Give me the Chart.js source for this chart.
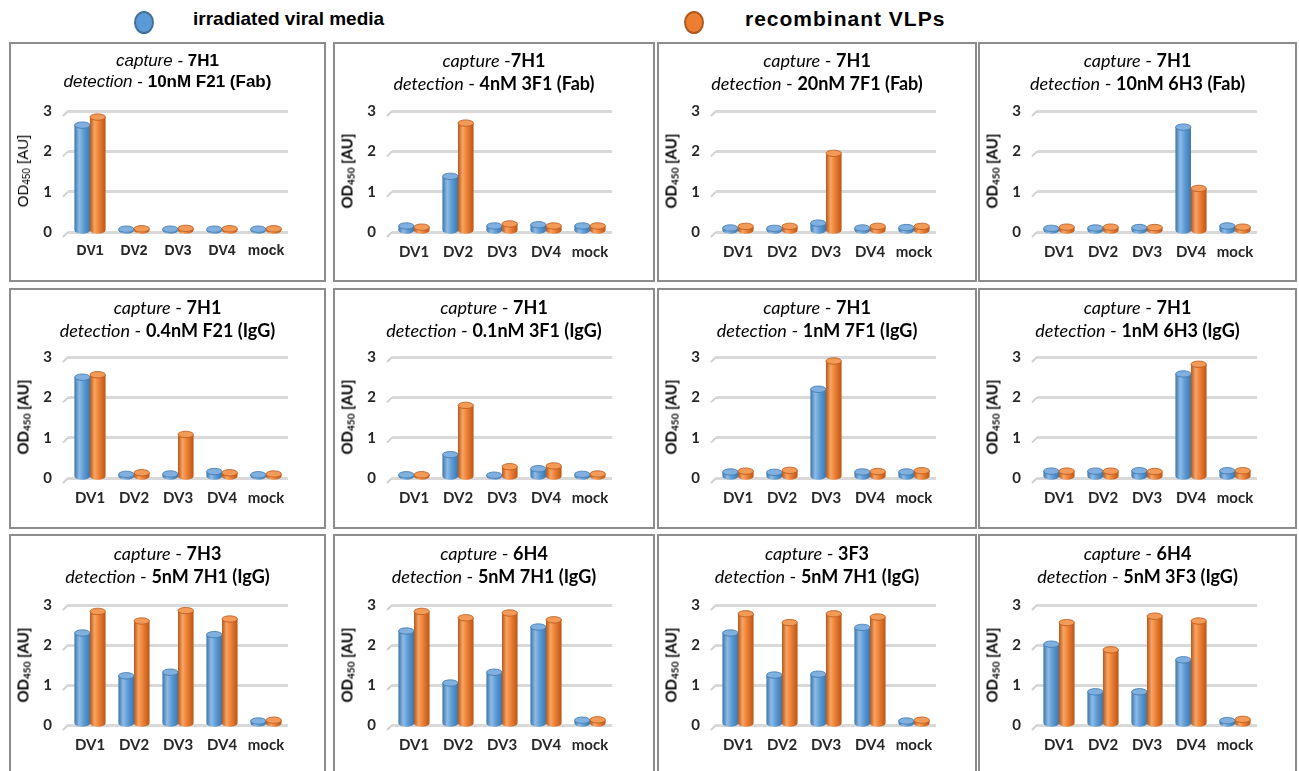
<!DOCTYPE html>
<html>
<head>
<meta charset="utf-8">
<script src="https://cdn.jsdelivr.net/npm/chart.js@4"></script>
<style>
  body { margin: 0; background: #fff; width: 1299px; height: 771px; position: relative; overflow: hidden; }
  .legend-dot { position: absolute; width: 16px; height: 19px; border-radius: 50%; }
  .legend-text { position: absolute; font: bold 20px "Liberation Sans", Arial, sans-serif; color: #000; white-space: nowrap; }
  .panel { position: absolute; border: 2px solid #8c8c8c; box-sizing: border-box; background: #fff; }
  .panel canvas { position: absolute; left: 0; top: 0; }
  .ttl { position: absolute; left: 0; right: 0; text-align: center; font: 18px Lato, sans-serif; color: #000; white-space: nowrap; }
  .ttl i { font-style: italic; }
  .ttl b { font-weight: bold; }
  .ytitle { position: absolute; font: bold 15px Lato, sans-serif; color: #000; white-space: nowrap;
            transform: translate(-50%, -50%) rotate(-90deg); }
  .ytitle sub { font-size: 10px; vertical-align: -2px; }
</style>
</head>
<body>
<div class="legend-dot" style="left:134px;top:11px;background:#5b9bd5;border:2px solid #41719c;"></div>
<div class="legend-text" style="left:193px;top:8px;font-size:19px;">irradiated viral media</div>
<div class="legend-dot" style="left:684px;top:11px;background:#ed7d31;border:2px solid #ae5a21;"></div>
<div class="legend-text" style="left:745px;top:7px;font-size:21px;letter-spacing:1px;">recombinant VLPs</div>

<script>
const categories = ["DV1", "DV2", "DV3", "DV4", "mock"];
const seriesNames = ["irradiated viral media", "recombinant VLPs"];
const yTicks = [0, 1, 2, 3];

const captureAb = ["7H1", "7H1", "7H1", "7H1", "7H1", "7H1", "7H1", "7H1", "7H3", "6H4", "3F3", "6H4"];
const detectionAb = [
  "10nM F21 (Fab)", "4nM 3F1 (Fab)", "20nM 7F1 (Fab)", "10nM 6H3 (Fab)",
  "0.4nM F21 (IgG)", "0.1nM 3F1 (IgG)", "1nM 7F1 (IgG)", "1nM 6H3 (IgG)",
  "5nM 7H1 (IgG)", "5nM 7H1 (IgG)", "5nM 7H1 (IgG)", "5nM 3F3 (IgG)"
];

const irradiated = [
  [2.65, 0.07, 0.07, 0.07, 0.07],
  [0.15, 1.38, 0.15, 0.18, 0.15],
  [0.10, 0.09, 0.22, 0.10, 0.11],
  [0.09, 0.10, 0.11, 2.60, 0.15],
  [2.50, 0.09, 0.10, 0.16, 0.08],
  [0.08, 0.58, 0.07, 0.23, 0.09],
  [0.15, 0.14, 2.20, 0.15, 0.15],
  [0.17, 0.17, 0.18, 2.58, 0.18],
  [2.30, 1.23, 1.32, 2.26, 0.10],
  [2.35, 1.05, 1.32, 2.45, 0.12],
  [2.30, 1.25, 1.27, 2.44, 0.10],
  [2.02, 0.83, 0.83, 1.63, 0.11]
];
const recombinant = [
  [2.85, 0.08, 0.09, 0.08, 0.08],
  [0.12, 2.70, 0.20, 0.15, 0.15],
  [0.14, 0.14, 1.95, 0.14, 0.14],
  [0.12, 0.12, 0.11, 1.08, 0.12],
  [2.56, 0.13, 1.08, 0.13, 0.10],
  [0.08, 1.80, 0.28, 0.30, 0.10],
  [0.17, 0.19, 2.90, 0.16, 0.18],
  [0.17, 0.17, 0.16, 2.82, 0.18],
  [2.84, 2.60, 2.86, 2.65, 0.12],
  [2.84, 2.68, 2.80, 2.63, 0.13],
  [2.78, 2.56, 2.78, 2.70, 0.12],
  [2.56, 1.88, 2.72, 2.60, 0.14]
];

const colLeft = [9, 333, 657, 978];
const colWidth = [317, 322, 320, 319];
const rowTop = [42, 288, 534];
const rowHeight = [240, 241, 240];

const palette = [
  { body: "#5b9bd5", light: "#8fbbe6", dark: "#3f77ab", cap: "#7fb0e0" },
  { body: "#ed7d31", light: "#f6a566", dark: "#b9581a", cap: "#f39a57" }
];

// draws the 3D cylinder look on top of the library's bars, plus the wall ticks
const cylinderPlugin = {
  id: "cylinders",
  beforeDatasetsDraw(chart) {
    const { ctx, chartArea, scales } = chart;
    ctx.save();
    ctx.strokeStyle = "#d0d0d0";
    ctx.lineWidth = 2;
    yTicks.forEach((t) => {
      const y = scales.y.getPixelForValue(t);
      ctx.beginPath();
      ctx.moveTo(chartArea.left - 5, y + 5);
      ctx.lineTo(chartArea.left, y);
      ctx.stroke();
    });
    ctx.restore();
  },
  afterDatasetsDraw(chart) {
    const { ctx } = chart;
    chart.data.datasets.forEach((ds, di) => {
      const pal = palette[di];
      chart.getDatasetMeta(di).data.forEach((bar) => {
        const { x, y, base, width } = bar.getProps(["x", "y", "base", "width"], true);
        const left = x - width / 2;
        const rx = width / 2;
        const ry = 3.2;
        const grad = ctx.createLinearGradient(left, 0, left + width, 0);
        grad.addColorStop(0, pal.dark);
        grad.addColorStop(0.3, pal.light);
        grad.addColorStop(0.6, pal.body);
        grad.addColorStop(1, pal.dark);
        ctx.save();
        ctx.fillStyle = grad;
        ctx.beginPath();
        ctx.ellipse(x, base, rx, ry, 0, 0, Math.PI);
        ctx.lineTo(left, y);
        ctx.ellipse(x, y, rx, ry, 0, Math.PI, 0, true);
        ctx.closePath();
        ctx.fill();
        ctx.beginPath();
        ctx.ellipse(x, y, rx, ry, 0, 0, Math.PI * 2);
        ctx.fillStyle = pal.cap;
        ctx.fill();
        ctx.strokeStyle = pal.dark;
        ctx.lineWidth = 0.8;
        ctx.stroke();
        ctx.restore();
      });
    });
  }
};

for (let i = 0; i < 12; i++) {
  const r = Math.floor(i / 4), c = i % 4;
  const W = colWidth[c], H = rowHeight[r];
  const inW = W - 4, inH = H - 4;
  const first = i === 0;

  const panel = document.createElement("div");
  panel.className = "panel";
  panel.style.left = colLeft[c] + "px";
  panel.style.top = rowTop[r] + "px";
  panel.style.width = W + "px";
  panel.style.height = H + "px";

  const ttl = document.createElement("div");
  ttl.className = "ttl";
  const dash = i === 1 ? " -" : " - ";
  ttl.innerHTML = "<i>capture</i>" + dash + "<b>" + captureAb[i] + "</b><br><i>detection</i> - <b>" + detectionAb[i] + "</b>";
  if (first) {
    ttl.style.fontFamily = '"Liberation Sans", Arial, sans-serif';
    ttl.style.fontSize = "17px";
    ttl.style.lineHeight = "21px";
    ttl.style.top = "6px";
  } else {
    ttl.style.lineHeight = "23px";
    ttl.style.top = r === 0 ? "5px" : "6px";
  }

  const canvas = document.createElement("canvas");
  canvas.width = inW;
  canvas.height = inH;
  canvas.style.width = inW + "px";
  canvas.style.height = inH + "px";

  const yt = document.createElement("div");
  yt.className = "ytitle";
  yt.innerHTML = "OD<sub>450</sub> [AU]";
  yt.style.left = "12px";
  yt.style.top = (r === 2 ? 129 : 127) + "px";
  if (first) {
    yt.style.fontFamily = '"Liberation Sans", Arial, sans-serif';
    yt.style.fontWeight = "normal";
    yt.style.fontSize = "15px";
  }

  panel.appendChild(canvas);
  panel.appendChild(ttl);
  panel.appendChild(yt);
  document.body.appendChild(panel);

  const plotTop = r === 2 ? 69 : 67;
  const plotBottom = r === 2 ? 189 : 188;
  const plotLeft = 57;
  const plotRight = 277;

  new Chart(canvas, {
    type: "bar",
    data: {
      labels: categories,
      datasets: [
        { label: seriesNames[0], data: irradiated[i], backgroundColor: palette[0].body },
        { label: seriesNames[1], data: recombinant[i], backgroundColor: palette[1].body }
      ]
    },
    options: {
      responsive: false,
      animation: false,
      devicePixelRatio: 1,
      layout: { padding: { top: plotTop, right: inW - plotRight, left: 0, bottom: 0 } },
      datasets: { bar: { categoryPercentage: 0.7, barPercentage: 1.0, borderWidth: 0 } },
      plugins: { legend: { display: false }, title: { display: false }, tooltip: { enabled: false } },
      scales: {
        x: {
          grid: { display: false, drawTicks: false },
          border: { display: false },
          afterFit: (s) => { s.height = inH - plotBottom; },
          ticks: {
            padding: 11,
            maxRotation: 0,
            minRotation: 0,
            autoSkip: false,
            color: "#262626",
            font: first
              ? { family: '"Liberation Sans", Arial, sans-serif', size: 14, weight: "bold" }
              : { family: "Lato", size: 15, weight: "bold" }
          }
        },
        y: {
          min: 0,
          max: 3,
          afterFit: (s) => { s.width = plotLeft; },
          afterBuildTicks: (s) => { s.ticks = yTicks.map((v) => ({ value: v })); },
          grid: { color: "#d9d9d9", lineWidth: 3, drawTicks: false },
          border: { display: false },
          ticks: { padding: 16, color: "#262626", font: { family: "Lato", size: 15, weight: "bold" } }
        }
      }
    },
    plugins: [cylinderPlugin]
  });
}
</script>
</body>
</html>
